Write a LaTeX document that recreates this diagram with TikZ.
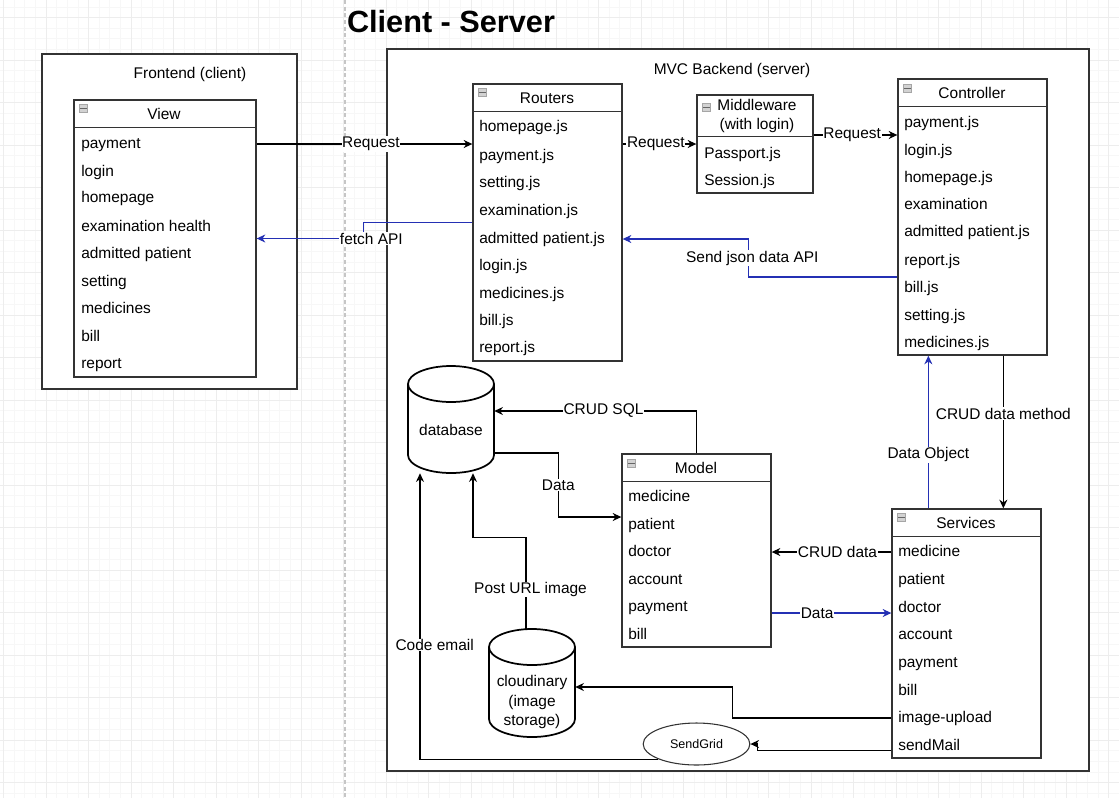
\documentclass[tikz,border=0pt]{standalone}
\usepackage{fontspec}
\setmainfont{Liberation Sans}
\usetikzlibrary{arrows.meta, calc, fit, shapes.geometric}

\definecolor{linkblue}{RGB}{36,48,180}
\definecolor{boxline}{RGB}{51,51,51}

\tikzset{
  areabox/.style={draw=boxline, line width=1pt, fill=white, inner sep=0pt},
  classbox/.style={draw=boxline, line width=1pt, fill=white, inner sep=0pt},
  headline/.style={draw=boxline, line width=1pt},
  rowtext/.style={anchor=west, inner sep=0pt, text height=8.5pt, text depth=2.5pt,
    font=\fontsize{11.6}{13}\selectfont},
  heading/.style={inner sep=0pt, font=\fontsize{11.6}{14.3}\selectfont},
  lbl/.style={fill=white, inner sep=0.5pt, font=\fontsize{11.6}{13}\selectfont},
  collapse/.style={draw=gray!70, fill=gray!35, minimum width=6.5pt, minimum height=5.5pt,
    inner sep=0pt, path picture={\draw[gray!80!black] (path picture bounding box.west) -- (path picture bounding box.east);}},
  arr/.style={-{Stealth[length=6.5pt, width=6pt]}, line width=0.9pt},
  bluearr/.style={arr, draw=linkblue},
  cyl/.style={draw=black, line width=1.3pt, fill=white},
}

\begin{document}
\begin{tikzpicture}[x=0.75pt, y=-0.75pt]

% Hoja y rejilla
\useasboundingbox (0,0) rectangle (1119,797);
\clip (0,0) rectangle (1119,797);
\fill[white] (0,0) rectangle (1119,797);
\draw[gray!6, line width=0.5pt, step=7.96875pt, xshift=2.625pt, yshift=-13.125pt] (-60,-60) grid (1180,860);
\draw[gray!14, line width=0.5pt, step=31.875pt, xshift=2.625pt, yshift=-13.125pt] (-60,-60) grid (1180,860);
\draw[gray!45, line width=0.8pt, dash pattern=on 3pt off 2pt] (345,0) -- (345,797);

% Titulo
\node[inner sep=0pt, font=\fontsize{23}{26}\selectfont\bfseries] (title) at (451,22) {Client - Server};

% Frontend
\node[areabox, fit={(42,54) (297,389)}] (frontend) {};
\node[heading] (frontend-title) at (190,74) {Frontend (client)};

% Backend
\node[areabox, fit={(387,49) (1089,771)}] (backend) {};
\node[heading] (backend-title) at (732,70) {MVC Backend (server)};

% View
\node[classbox, fit={(74,100) (256,377)}] (view) {};
\draw[headline] ($(view.north west)+(0,28)$) -- ($(view.north east)+(0,28)$);
\node[collapse] (vw-icon) at ($(view.north west)+(10,9)$) {};
\node[heading] (vw-title) at (164,114) {View};
\node[rowtext] (vw-pay) at (81,144) {payment};
\node[rowtext] (vw-login) at (81,172) {login};
\node[rowtext] (vw-home) at (81,198) {homepage};
\node[rowtext] (vw-exam) at (81,227) {examination health};
\node[rowtext] (vw-adm) at (81,254) {admitted patient};
\node[rowtext] (vw-set) at (81,282) {setting};
\node[rowtext] (vw-med) at (81,309) {medicines};
\node[rowtext] (vw-bill) at (81,337) {bill};
\node[rowtext] (vw-rep) at (81,364) {report};

% Routers
\node[classbox, fit={(473,84) (622,361)}] (routers) {};
\draw[headline] ($(routers.north west)+(0,28)$) -- ($(routers.north east)+(0,28)$);
\node[collapse] (rt-icon) at ($(routers.north west)+(10,9)$) {};
\node[heading] (rt-title) at (547,98) {Routers};
\node[rowtext] (rt-home) at (479,127) {homepage.js};
\node[rowtext] (rt-pay) at (479,156) {payment.js};
\node[rowtext] (rt-set) at (479,183) {setting.js};
\node[rowtext] (rt-exam) at (479,211) {examination.js};
\node[rowtext] (rt-adm) at (479,239) {admitted patient.js};
\node[rowtext] (rt-login) at (479,266) {login.js};
\node[rowtext] (rt-med) at (479,294) {medicines.js};
\node[rowtext] (rt-bill) at (479,321) {bill.js};
\node[rowtext] (rt-rep) at (479,348) {report.js};

% Middleware
\node[classbox, fit={(697,95) (813,193)}] (mw) {};
\draw[headline] ($(mw.north west)+(0,42)$) -- ($(mw.north east)+(0,42)$);
\node[collapse] (mw-icon) at ($(mw.north west)+(10,13)$) {};
\node[heading, align=center] (mw-title) at (757,116) {Middleware\\(with login)};
\node[rowtext] (mw-pass) at (704,154) {Passport.js};
\node[rowtext] (mw-sess) at (704,181) {Session.js};

% Controller
\node[classbox, fit={(898,79) (1047,355)}] (ctrl) {};
\draw[headline] ($(ctrl.north west)+(0,28)$) -- ($(ctrl.north east)+(0,28)$);
\node[collapse] (ct-icon) at ($(ctrl.north west)+(10,10)$) {};
\node[heading] (ct-title) at (972,93) {Controller};
\node[rowtext] (ct-pay) at (904,123) {payment.js};
\node[rowtext] (ct-login) at (904,151) {login.js};
\node[rowtext] (ct-home) at (904,178) {homepage.js};
\node[rowtext] (ct-exam) at (904,205) {examination};
\node[rowtext] (ct-adm) at (904,232) {admitted patient.js};
\node[rowtext] (ct-rep) at (904,261) {report.js};
\node[rowtext] (ct-bill) at (904,288) {bill.js};
\node[rowtext] (ct-set) at (904,316) {setting.js};
\node[rowtext] (ct-med) at (904,343) {medicines.js};

% Model
\node[classbox, fit={(622,454) (771,647)}] (model) {};
\draw[headline] ($(model.north west)+(0,28)$) -- ($(model.north east)+(0,28)$);
\node[collapse] (md-icon) at ($(model.north west)+(10,10)$) {};
\node[heading] (md-title) at (696,468) {Model};
\node[rowtext] (md-med) at (628,497) {medicine};
\node[rowtext] (md-pat) at (628,525) {patient};
\node[rowtext] (md-doc) at (628,552) {doctor};
\node[rowtext] (md-acc) at (628,580) {account};
\node[rowtext] (md-pay) at (628,607) {payment};
\node[rowtext] (md-bill) at (628,635) {bill};

% Services
\node[classbox, fit={(892,509) (1041,758)}] (svc) {};
\draw[headline] ($(svc.north west)+(0,28)$) -- ($(svc.north east)+(0,28)$);
\node[collapse] (sv-icon) at ($(svc.north west)+(10,9)$) {};
\node[heading] (sv-title) at (966,523) {Services};
\node[rowtext] (svc-med) at (898,552) {medicine};
\node[rowtext] (svc-pat) at (898,580) {patient};
\node[rowtext] (svc-doc) at (898,608) {doctor};
\node[rowtext] (svc-acc) at (898,635) {account};
\node[rowtext] (svc-pay) at (898,663) {payment};
\node[rowtext] (svc-bill) at (898,691) {bill};
\node[rowtext] (svc-img) at (898,718) {image-upload};
\node[rowtext] (svc-mail) at (898,746) {sendMail};

% Base de datos
\node[fit={(408,366) (494,473)}, inner sep=0pt] (db) {};
\draw[cyl] (408,384) -- (408,455) arc[start angle=180, end angle=0, x radius=43, y radius=18]
  -- (494,384) arc[start angle=0, end angle=-180, x radius=43, y radius=18] -- cycle;
\draw[cyl, fill=none] (408,384) arc[start angle=180, end angle=0, x radius=43, y radius=18];
\node[heading] (db-text) at (451,430) {database};

% Cloudinary
\node[fit={(489,629) (575,737)}, inner sep=0pt] (cloud) {};
\draw[cyl] (489,647) -- (489,719) arc[start angle=180, end angle=0, x radius=43, y radius=18]
  -- (575,647) arc[start angle=0, end angle=-180, x radius=43, y radius=18] -- cycle;
\draw[cyl, fill=none] (489,647) arc[start angle=180, end angle=0, x radius=43, y radius=18];
\node[heading, align=center] (cloud-text) at (532,702) {cloudinary\\(image\\storage)};

% SendGrid
\node[draw=boxline, ellipse, line width=0.8pt, fill=white, minimum width=80pt, minimum height=31.5pt,
  inner sep=0pt, font=\fontsize{9.4}{11}\selectfont] (sg) at (696.5,744) {SendGrid};

% Conexiones cliente - servidor
\draw[arr] (view.east |- vw-pay) -- (routers.west |- vw-pay) node[lbl, pos=0.53] (req1) {Request};
\draw[bluearr] (routers.west) -- ++(-109,0) |- (view.east) node[lbl, pos=0.5, xshift=6pt] (fetch) {fetch API};
\draw[arr] (routers.east |- mw.west) -- (mw.west) node[lbl, pos=0.45] (req2) {Request};
\draw[arr] ($(mw.east)+(0,-9)$) -- ($(ctrl.west |- mw.east)+(0,-9)$) node[lbl, pos=0.46] (req3) {Request};
\draw[bluearr] ($(ctrl.west)+(0,60)$) -- ++(-149,0) |- (routers.east |- rt-adm)
  node[lbl, pos=0.25, xshift=3pt] (sendjson) {Send json data API};

% Controller - Services - Model
\draw[bluearr] ($(svc.north west)+(37,0)$) -- ($(ctrl.south west)+(31,0)$) node[lbl, pos=0.35] (dataobj) {Data Object};
\draw[arr] ($(ctrl.south west)+(106,0)$) -- ($(svc.north west)+(112,0)$) node[lbl, pos=0.38] (crudmethod) {CRUD data method};
\draw[arr] (svc.west |- svc-med) -- (model.east |- svc-med) node[lbl, pos=0.45] (cruddata) {CRUD data};
\draw[bluearr] ($(model.east)+(0,62.5)$) -- ($(svc.west |- model.east)+(0,62.5)$) node[lbl, pos=0.38] (data2) {Data};

% Model - database
\draw[arr] (model.north) |- ($(db.east)+(0,-8.5)$) node[lbl, pos=0.73] (crudsql) {CRUD SQL};
\draw[arr] ($(db.east)+(0,33.5)$) -- ++(64,0) |- ($(model.west)+(0,-33.5)$) node[lbl, pos=0.25] (data1) {Data};

% Imagenes y correo
\draw[arr] ($(cloud.north)+(-6,0)$) -- ++(0,-91) node[lbl, pos=0.43, xshift=3.4pt] (posturl) {Post URL image}
  -| ($(db.south)+(22,0)$);
\draw[arr] (svc.west |- svc-img) -- ++(-159,0) |- ($(cloud.east)+(0,4)$);
\draw[arr] ($(svc.south west)+(0,-8)$) -- ++(-134,0) |- (sg.east);
\draw[arr] (sg.south west) -| ($(db.south)+(-31,0)$) node[lbl, pos=0.7, xshift=11pt] (codeemail) {Code email};

\end{tikzpicture}
\end{document}
